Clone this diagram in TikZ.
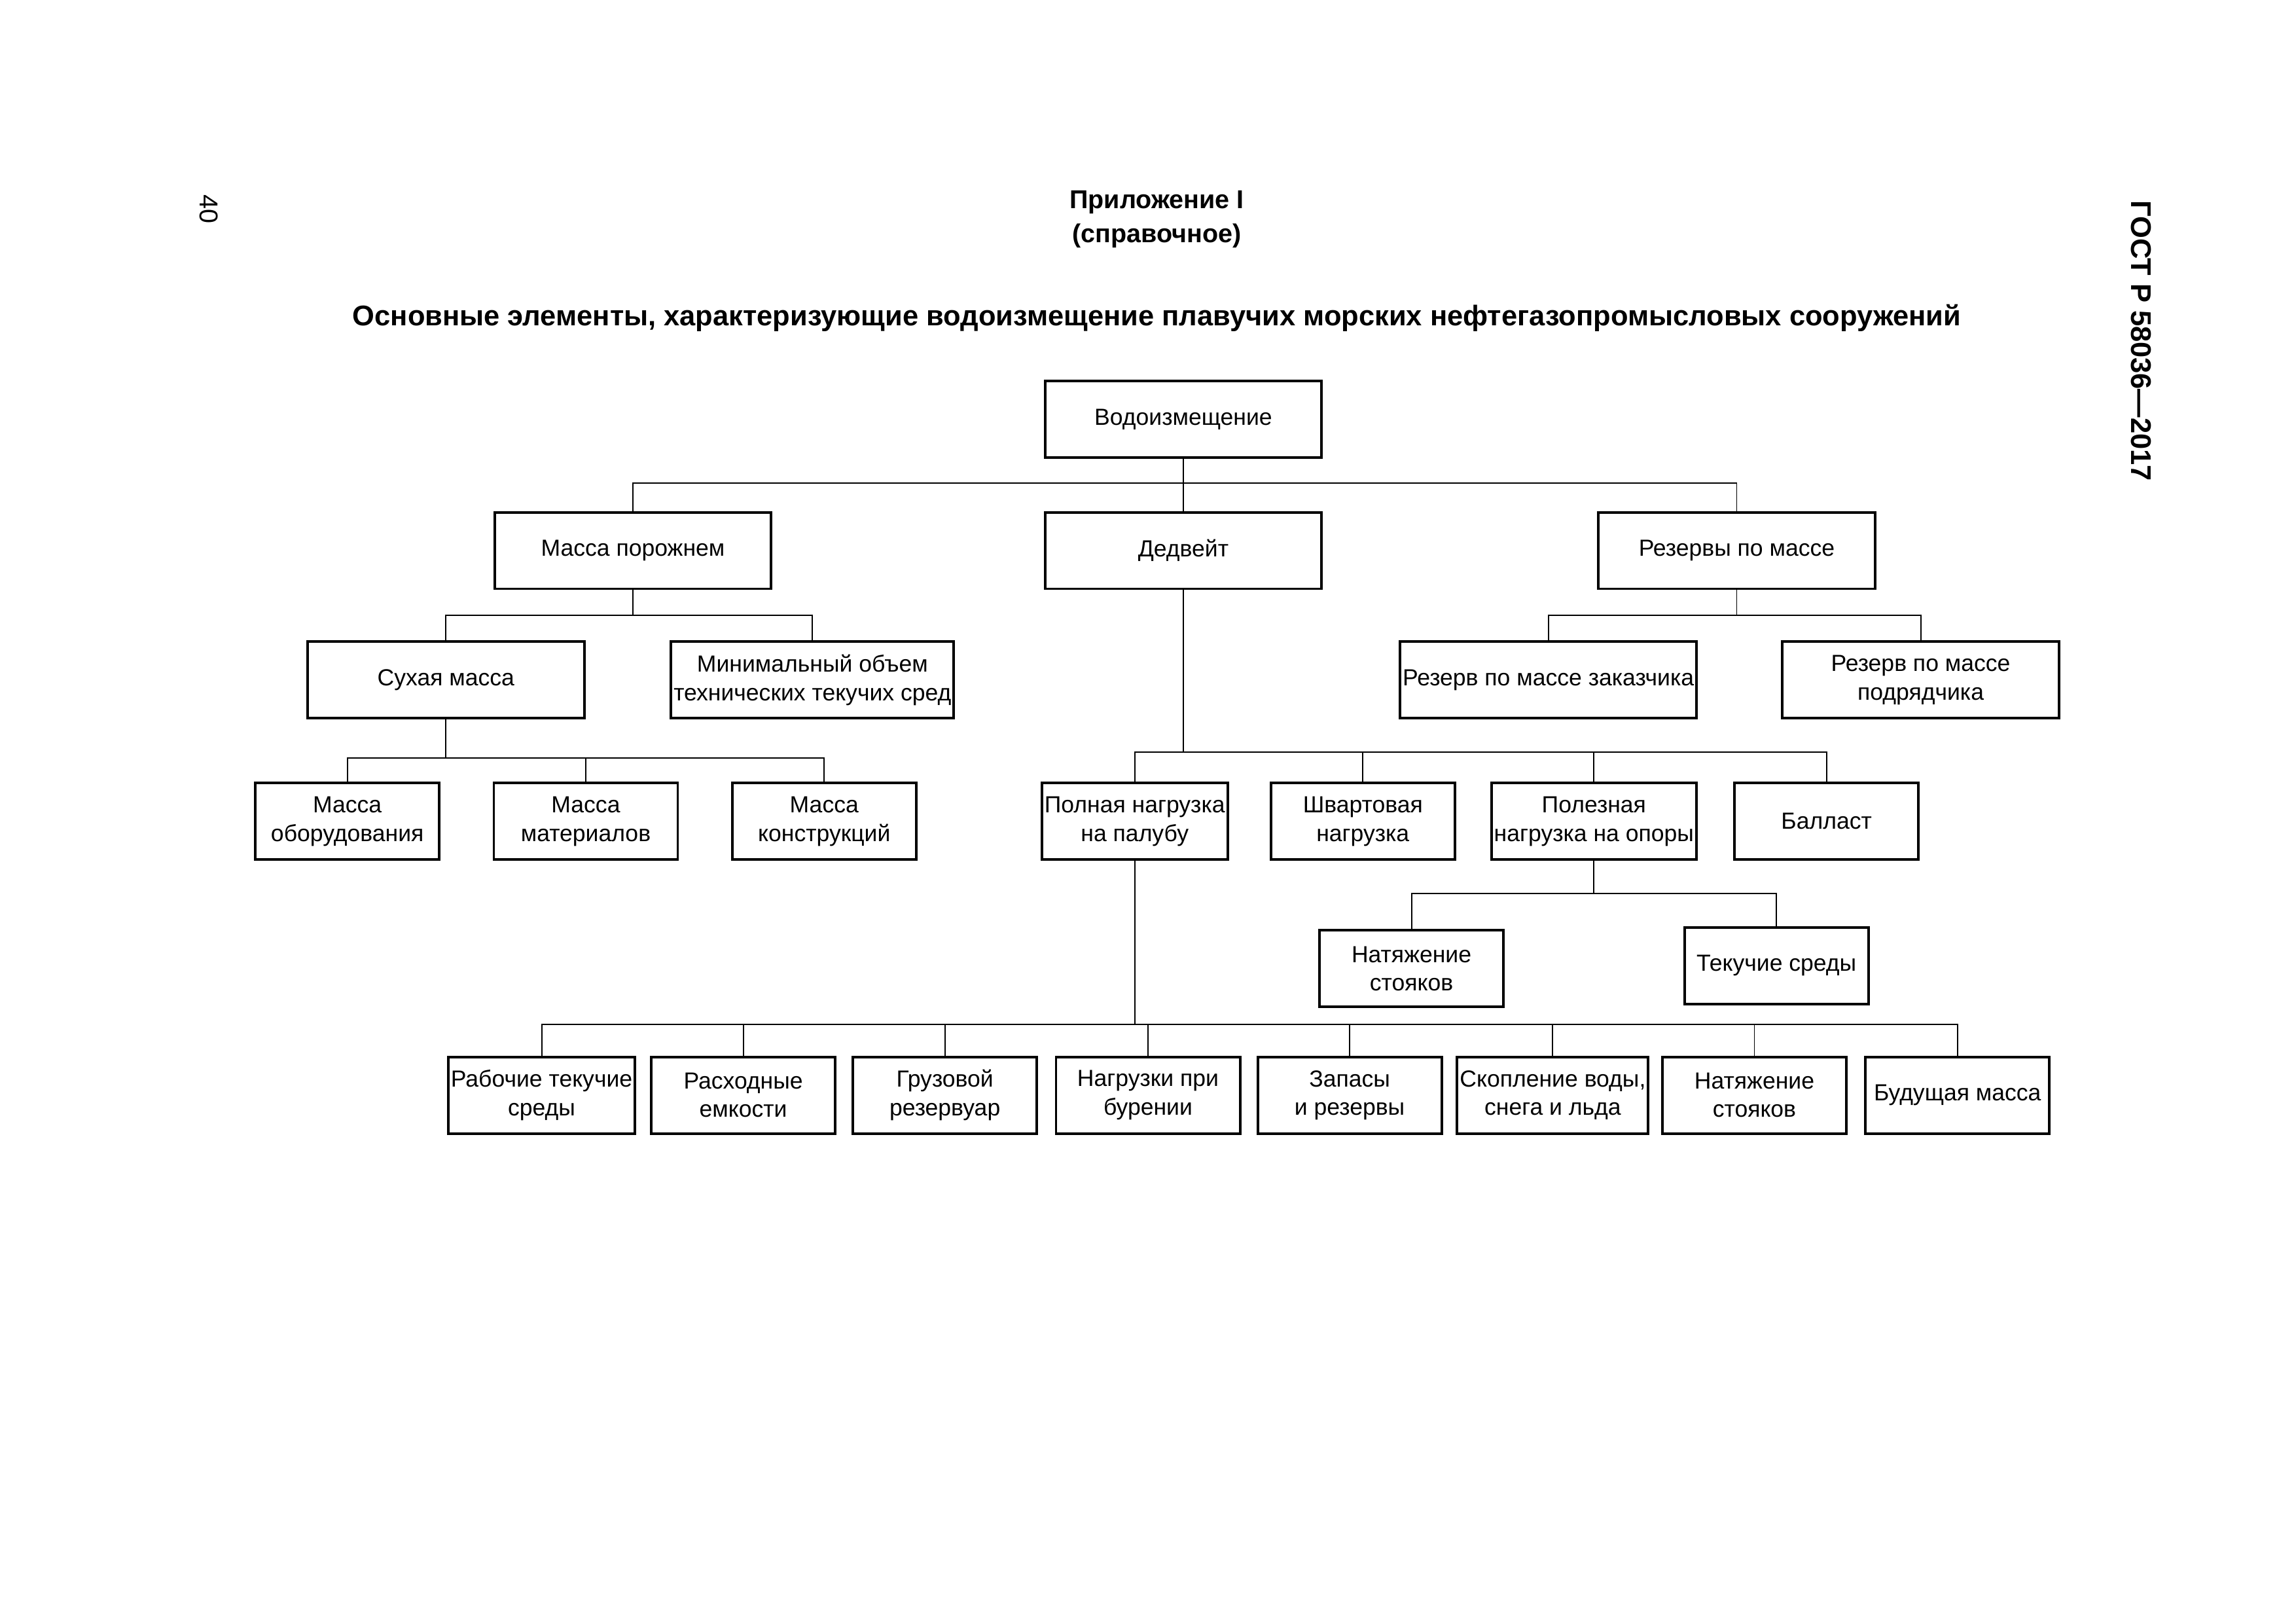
\documentclass[tikz,border=0pt]{standalone}
\usepackage{fontspec}
\setmainfont{Liberation Sans}
\begin{document}
\begin{tikzpicture}[x=0.02cm,y=-0.02cm,
 wbox/.style={draw,line width=1pt,minimum width=3.76cm,minimum height=1.04cm,align=center,font=\fontsize{9}{11}\selectfont,inner sep=1pt},
 nbox/.style={wbox,minimum width=2.5cm},
 ln/.style={line width=0.5pt}]
\useasboundingbox (0,0) rectangle (1560,1103);
\node[rotate=-90,font=\fontsize{10}{12}\selectfont] (pg) at (142,142) {40};
\node[rotate=-90,anchor=west,font=\bfseries\fontsize{11}{13}\selectfont] (gost) at (1455,130) {ГОСТ Р 58036—2017};
\node[align=center,font=\bfseries\fontsize{10}{13}\selectfont] (app) at (786,149) {Приложение I\\(справочное)};
\node[font=\bfseries\fontsize{11}{13}\selectfont] (title) at (786,216) {Основные элементы, характеризующие водоизмещение плавучих морских нефтегазопромысловых сооружений};
\node[wbox] (v) at (804,285) {Водоизмещение};
\node[wbox] (mp) at (430,374) {Масса порожнем};
\node[wbox] (d) at (804,374) {Дедвейт};
\node[wbox] (rm) at (1180,374) {Резервы по массе};
\node[wbox] (sm) at (303,462) {Сухая масса};
\node[wbox] (mo) at (552,462) {Минимальный объем\\технических текучих сред};
\node[wbox] (rz) at (1052,462) {Резерв по массе заказчика};
\node[wbox] (rp) at (1305,462) {Резерв по массе\\подрядчика};
\node[nbox] (m1) at (236,558) {Масса\\оборудования};
\node[nbox] (m2) at (398,558) {Масса\\материалов};
\node[nbox] (m3) at (560,558) {Масса\\конструкций};
\node[nbox] (pn) at (771,558) {Полная нагрузка\\на палубу};
\node[nbox] (sh) at (926,558) {Швартовая\\нагрузка};
\node[nbox] (po) at (1083,558) {Полезная\\нагрузка на опоры};
\node[nbox] (bl) at (1241,558) {Балласт};
\node[nbox] (ns) at (959,658) {Натяжение\\стояков};
\node[nbox] (ts) at (1207,656) {Текучие среды};
\node[nbox] (b1) at (368,744) {Рабочие текучие\\среды};
\node[nbox] (b2) at (505,744) {Расходные\\емкости};
\node[nbox] (b3) at (642,744) {Грузовой\\резервуар};
\node[nbox] (b4) at (780,744) {Нагрузки при\\бурении};
\node[nbox] (b5) at (917,744) {Запасы\\и резервы};
\node[nbox] (b6) at (1055,744) {Скопление воды,\\снега и льда};
\node[nbox] (b7) at (1192,744) {Натяжение\\стояков};
\node[nbox] (b8) at (1330,744) {Будущая масса};
\coordinate (j1) at (804,328);
\coordinate (j2) at (430,418);
\coordinate (j3) at (1180,418);
\coordinate (j4) at (303,515);
\coordinate (j5) at (804,511);
\coordinate (j6) at (1083,607);
\coordinate (j7) at (771,696);
\draw[ln] (v.south) -- (j1);
\draw[ln] (mp.north) -- (mp.north |- j1) -- (rm.north |- j1) -- (rm.north);
\draw[ln] (d.north) -- (d.north |- j1);
\draw[ln] (mp.south) -- (j2);
\draw[ln] (sm.north) -- (sm.north |- j2) -- (mo.north |- j2) -- (mo.north);
\draw[ln] (rm.south) -- (j3);
\draw[ln] (rz.north) -- (rz.north |- j3) -- (rp.north |- j3) -- (rp.north);
\draw[ln] (sm.south) -- (j4);
\draw[ln] (m1.north) -- (m1.north |- j4) -- (m3.north |- j4) -- (m3.north);
\draw[ln] (m2.north) -- (m2.north |- j4);
\draw[ln] (d.south) -- (j5);
\draw[ln] (pn.north) -- (pn.north |- j5) -- (bl.north |- j5) -- (bl.north);
\draw[ln] (sh.north) -- (sh.north |- j5);
\draw[ln] (po.north) -- (po.north |- j5);
\draw[ln] (po.south) -- (j6);
\draw[ln] (ns.north) -- (ns.north |- j6) -- (ts.north |- j6) -- (ts.north);
\draw[ln] (pn.south) -- (j7);
\draw[ln] (b1.north) -- (b1.north |- j7) -- (b8.north |- j7) -- (b8.north);
\foreach \b in {b2,b3,b4,b5,b6,b7} \draw[ln] (\b.north) -- (\b.north |- j7);
\end{tikzpicture}
\end{document}
